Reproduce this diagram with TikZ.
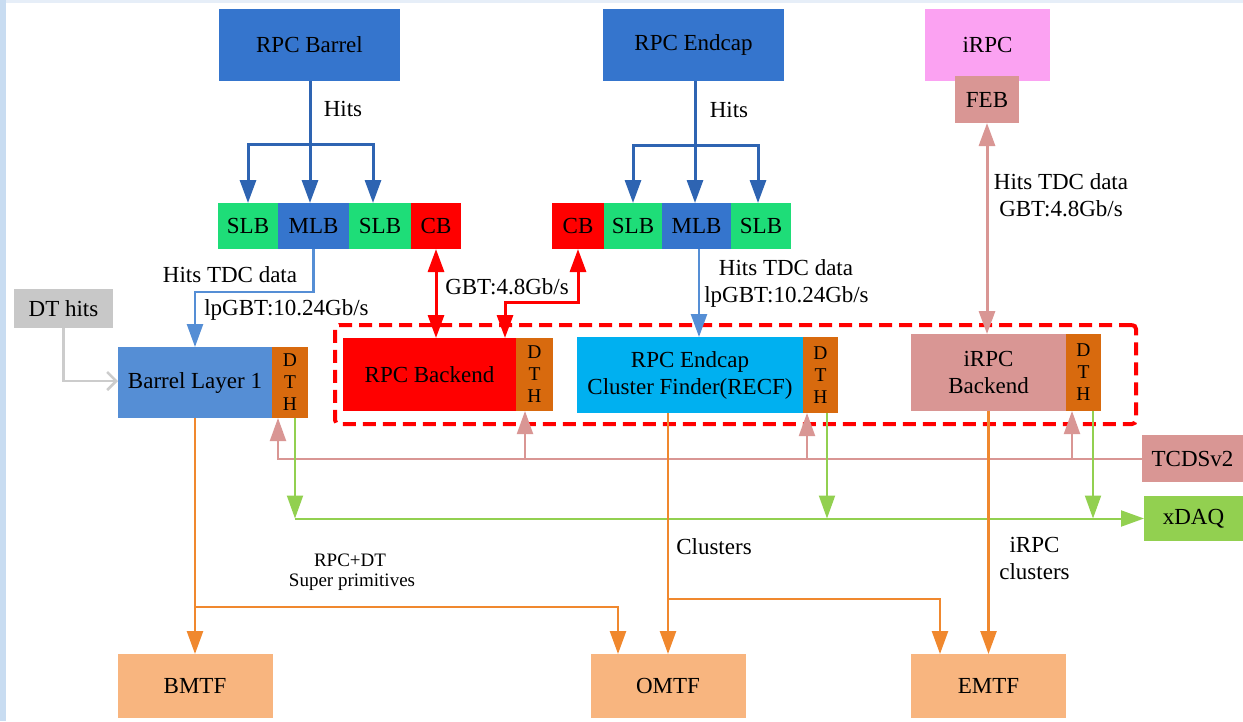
\documentclass[tikz,border=0pt]{standalone}
\usepackage{fontspec}
\setmainfont{Liberation Serif}
\usetikzlibrary{arrows.meta,calc}
\definecolor{cblue}{HTML}{3575CD}
\definecolor{slbgreen}{HTML}{1EDD78}
\definecolor{cbred}{HTML}{FF0000}
\definecolor{blone}{HTML}{558ED5}
\definecolor{dthorange}{HTML}{D86A0E}
\definecolor{recfcyan}{HTML}{00B0F0}
\definecolor{rose}{HTML}{D99694}
\definecolor{irpcpink}{HTML}{FBA2F2}
\definecolor{dtgray}{HTML}{C8C8C8}
\definecolor{xdaqgreen}{HTML}{92D050}
\definecolor{mtf}{HTML}{F8B57F}
\definecolor{linorange}{HTML}{F0882E}
\definecolor{bline}{HTML}{2E64B2}
\definecolor{lblue}{HTML}{558ED5}
\definecolor{grayline}{HTML}{CCCCCC}
\definecolor{stripleft}{HTML}{C8DCF1}
\definecolor{striptop}{HTML}{E6EEF8}
\begin{document}
\begin{tikzpicture}[x=1pt,y=-1pt,
  >={Triangle[length=23pt,width=16pt]},
  box/.style={rectangle,inner sep=0pt,outer sep=0pt,align=center,text=black,
    font=\fontsize{23}{27}\selectfont},
  wh/.style 2 args={minimum width=#1pt,minimum height=#2pt},
  dth/.style={box,fill=dthorange,minimum width=36pt,font=\fontsize{19.5}{22}\selectfont},
  lbl/.style={inner sep=0pt,align=center,text=black,font=\fontsize{23}{27}\selectfont},
  slbl/.style={inner sep=0pt,align=center,text=black,font=\fontsize{19}{22}\selectfont},
  conb/.style={draw=bline,line width=3pt},
  conl/.style={draw=lblue,line width=2.5pt},
  conr/.style={draw=cbred,line width=3pt},
  conp/.style={draw=rose,line width=3pt},
  cont/.style={draw=rose,line width=2pt},
  cong/.style={draw=xdaqgreen,line width=2pt},
  cono/.style={draw=linorange,line width=2.5pt},
  cong2/.style={draw=grayline,line width=2.5pt}]
\useasboundingbox (0,0) rectangle (1243,721);
\fill[white] (0,0) rectangle (1243,721);
\fill[stripleft] (0,0) rectangle (6,721);
\fill[striptop] (6,0) rectangle (1243,3);

% dashed group
\node[draw=cbred,line width=4pt,dash pattern=on 13pt off 7pt,rounded corners=4pt,
  inner sep=0pt,minimum width=801pt,minimum height=99pt] (group) at (735.5,374.5) {};

% top sources
\node[box,fill=cblue,wh={181}{72}] (rpcb) at (309.5,45) {RPC Barrel};
\node[box,fill=cblue,wh={181}{72}] (rpce) at (693.5,45) {RPC Endcap};
\node[box,fill=irpcpink,wh={125}{72}] (irpc) at (987.5,45) {iRPC};
\node[box,fill=rose,wh={64}{47}] (feb) at (987,99.5) {FEB};

% link boards
\node[box,fill=slbgreen,wh={60}{46}] (slb1) at (248,226) {SLB};
\node[box,fill=cblue,wh={71}{46}] (mlb1) at (313.5,226) {MLB};
\node[box,fill=slbgreen,wh={62}{46}] (slb2) at (380,226) {SLB};
\node[box,fill=cbred,wh={50}{46}] (cb1) at (436,226) {CB};
\node[box,fill=cbred,wh={52}{46}] (cb2) at (578,226) {CB};
\node[box,fill=slbgreen,wh={58}{46}] (slb3) at (633,226) {SLB};
\node[box,fill=cblue,wh={69}{46}] (mlb2) at (696.5,226) {MLB};
\node[box,fill=slbgreen,wh={60}{46}] (slb4) at (761,226) {SLB};

% backends
\node[box,fill=dtgray,wh={99}{39}] (dthits) at (63.5,308.5) {DT hits};
\node[box,fill=blone,wh={154}{71}] (bl1) at (195,382.5) {Barrel Layer 1};
\node[dth,minimum height=71pt] (dth1) at (290,382.5) {D\\T\\H};
\node[box,fill=cbred,wh={173}{73}] (rpcbe) at (429.5,374.5) {RPC Backend};
\node[dth,minimum height=73pt,minimum width=37pt] (dth2) at (534.5,374.5) {D\\T\\H};
\node[box,fill=recfcyan,wh={226}{76}] (recf) at (690,375) {RPC Endcap\\Cluster Finder(RECF)};
\node[dth,minimum height=76pt,minimum width=35pt] (dth3) at (820.5,375) {D\\T\\H};
\node[box,fill=rose,wh={155}{77}] (irpcbe) at (988.5,372.5) {iRPC\\Backend};
\node[dth,minimum height=77pt,minimum width=35pt] (dth4) at (1083.5,372.5) {D\\T\\H};

\node[box,fill=rose,wh={101}{47}] (tcds) at (1192.5,458.5) {TCDSv2};
\node[box,fill=xdaqgreen,wh={99}{45}] (xdaq) at (1193.5,518.5) {xDAQ};

\node[box,fill=mtf,wh={155}{64}] (bmtf) at (195,686) {BMTF};
\node[box,fill=mtf,wh={155}{64}] (omtf) at (668,686) {OMTF};
\node[box,fill=mtf,wh={155}{64}] (emtf) at (988.5,686) {EMTF};

% hits from chambers
\coordinate (bsplit) at (310,144);
\draw[conb,->] (rpcb.south -| bsplit) -- (bsplit |- mlb1.north);
\draw[conb,<->] (slb1.north) |- (bsplit) -| ([xshift=-7pt]slb2.north);
\node[lbl] (hits1) at (343,109) {Hits};
\coordinate (esplit) at (695,145);
\draw[conb,->] (rpce.south -| esplit) -- (esplit |- mlb2.north);
\draw[conb,<->] (slb3.north) |- (esplit) -| ([xshift=-3pt]slb4.north);
\node[lbl] (hits2) at (729,110) {Hits};

% MLB to backends
\draw[conl,->] (mlb1.south) -- ++(0,43) -| (bl1.north);
\node[lbl] (tdc1) at (230,275) {Hits TDC data};
\node[lbl] (gbt1) at (286.5,310) {lpGBT:10.24Gb/s};
\draw[conl,->] ([xshift=2.5pt]mlb2.south) -- ([xshift=2.5pt]mlb2.south |- recf.north);
\node[lbl] (tdc2) at (786,268) {Hits TDC data};
\node[lbl] (gbt2) at (786.5,297) {lpGBT:10.24Gb/s};

% CB links
\draw[conr,<->] (cb1.south) -- (cb1.south |- rpcbe.north);
\draw[conr,<->] (cb2.south) -- ++(0,53) -| ([xshift=75.5pt]rpcbe.north);
\node[lbl] (gbt3) at (507,287) {GBT:4.8Gb/s};

% FEB link
\draw[conp,<->] (feb.south) -- (feb.south |- irpcbe.north);
\node[lbl] (tdc3) at (1061,195.5) {Hits TDC data\\GBT:4.8Gb/s};

% DT hits
\draw[cong2,-{Straight Barb[length=9pt,width=18pt]}] (dthits.south) |- ([yshift=1.5pt]bl1.west);

% TCDS
\draw[cont,->] (tcds.west) -| ([xshift=-12pt]dth1.south);
\draw[cont,->] ([xshift=-9.5pt]dth2.south |- tcds.west) -- ([xshift=-9.5pt]dth2.south);
\draw[cont,->] ([xshift=-13.5pt]dth3.south |- tcds.west) -- ([xshift=-13.5pt]dth3.south);
\draw[cont,->] ([xshift=-11.5pt]dth4.south |- tcds.west) -- ([xshift=-11.5pt]dth4.south);

% xDAQ
\draw[cong,->] ([xshift=5pt]dth1.south) -- ([xshift=5pt]dth1.south |- xdaq.west);
\draw[cong,->] ([xshift=5pt]dth1.south |- xdaq.west) -- (xdaq.west);
\draw[cong,->] ([xshift=6.5pt]dth3.south) -- ([xshift=6.5pt]dth3.south |- xdaq.west);
\draw[cong,->] ([xshift=9.5pt]dth4.south) -- ([xshift=9.5pt]dth4.south |- xdaq.west);

% trigger primitives
\draw[cono,->] (bl1.south) -- (bmtf.north);
\coordinate (ob) at (195,607);
\draw[cono,->] (ob) -| ([xshift=-50pt]omtf.north);
\node[slbl] (sp1) at (350,560) {RPC+DT};
\node[slbl] (sp2) at (352,582) {Super primitives};
\draw[cono,->] ([xshift=-22pt]recf.south) -- (omtf.north);
\coordinate (oe) at (668,599);
\draw[cono,->] (oe) -| ([xshift=-48.5pt]emtf.north);
\node[lbl] (clu) at (714,547) {Clusters};
\draw[cono,->] (irpcbe.south) -- (emtf.north);
\node[lbl] (iclu) at (1034.5,558.5) {iRPC\\clusters};
\end{tikzpicture}
\end{document}
